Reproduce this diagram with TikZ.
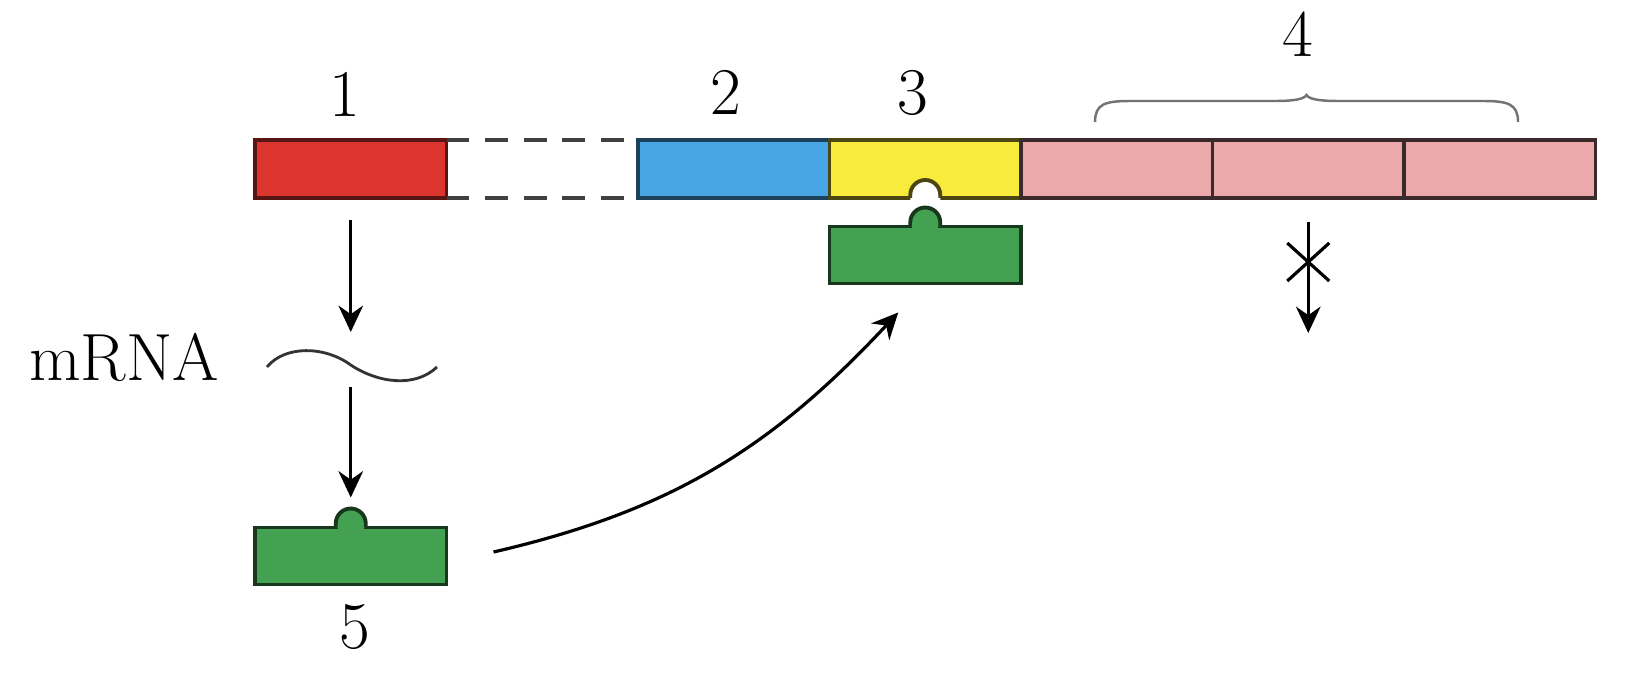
\documentclass[tikz,border=0pt]{standalone}
\usepackage{tikz}
\usetikzlibrary{positioning, arrows.meta}
\definecolor{genered}{HTML}{DC3530}
\definecolor{geneblue}{HTML}{47A6E3}
\definecolor{geneyellow}{HTML}{F9EB3C}
\definecolor{genepink}{HTML}{EBA9AB}
\definecolor{protgreen}{HTML}{45A152}
\tikzstyle{seg} = [rectangle, minimum width=1.915cm, minimum height=0.58cm, inner sep=0pt, outer sep=0pt, line width=1.1pt]
\tikzstyle{prot} = [seg, minimum height=0.57cm, fill=protgreen, draw=protgreen!35!black]
\tikzstyle{gapline} = [line width=1pt, draw=black!75, dash pattern=on 6.5pt off 4.5pt]
\tikzstyle{arrow} = [line width=0.9pt, ->, >={Stealth[length=7.5pt,width=7pt]}]
\tikzstyle{lbl} = [font=\fontsize{19}{22}\selectfont, anchor=base, inner sep=0pt]
\tikzstyle{bracel} = [line width=0.7pt, draw=black!55]

\begin{document}
\begin{tikzpicture}
\useasboundingbox (0,0) rectangle (16.32,6.78);

%gene
\node[seg, fill=genered, draw=genered!40!black] (prom) at (3.5075,5.09) {};
\node[seg, fill=geneblue, draw=geneblue!40!black, right=1.915cm of prom] (reg) {};
\node[seg, fill=geneyellow, draw=geneyellow!30!black, right=0cm of reg] (op) {};
\node[seg, fill=genepink, draw=genepink!25!black, right=0cm of op] (pk1) {};
\node[seg, fill=genepink, draw=genepink!25!black, right=0cm of pk1] (pk2) {};
\node[seg, fill=genepink, draw=genepink!25!black, right=0cm of pk2] (pk3) {};

%gap
\draw[gapline] (prom.north east) -- (reg.north west);
\draw[gapline] (prom.south east) -- (reg.south west);

%notch
\fill[white] ([xshift=-0.15cm,yshift=-0.05cm]op.south) -- ++(0,0.08) arc[start angle=180,end angle=0,radius=0.15cm] -- ++(0,-0.08) -- cycle;
\draw[line width=1.1pt, draw=geneyellow!30!black] ([xshift=-0.15cm]op.south) -- ++(0,0.03) arc[start angle=180,end angle=0,radius=0.15cm] -- ++(0,-0.03);

%labels
\node[lbl] (n1) at (3.45,5.61) {1};
\node[lbl] (n2) at (7.26,5.63) {2};
\node[lbl] (n3) at (9.13,5.63) {3};
\node[lbl] (n4) at (12.98,6.21) {4};
\node[lbl] (n5) at (3.55,0.30) {5};
\node[lbl] (mrnalbl) at (1.24,2.98) {mRNA};

%brace
\draw[bracel] (10.95,5.56) .. controls (10.95,5.74) and (11.05,5.77) .. (11.30,5.77) -- (12.75,5.77) .. controls (12.95,5.77) and (13.04,5.79) .. (13.065,5.83) .. controls (13.09,5.79) and (13.18,5.77) .. (13.38,5.77) -- (14.83,5.77) .. controls (15.08,5.77) and (15.18,5.74) .. (15.18,5.56);

%mRNA
\coordinate (wave) at (3.5075,3.13);
\draw[line width=0.8pt, black!80] (2.67,3.11) .. controls (2.85,3.33) and (3.25,3.32) .. (wave) .. controls (3.78,2.95) and (4.15,2.90) .. (4.37,3.11);

%repressor
\node[prot] (rep3) at (9.2525,4.23) {};
\node[prot] (rep) at (3.5075,1.22) {};
\filldraw[line width=1.1pt, fill=protgreen, draw=protgreen!35!black] ([xshift=-0.15cm]rep3.north) -- ++(0,0.04) arc[start angle=180,end angle=0,radius=0.15cm] -- ++(0,-0.04);
\fill[protgreen] ([xshift=-0.13cm,yshift=-0.04cm]rep3.north) rectangle ([xshift=0.13cm,yshift=0.045cm]rep3.north);
\filldraw[line width=1.1pt, fill=protgreen, draw=protgreen!35!black] ([xshift=-0.15cm]rep.north) -- ++(0,0.04) arc[start angle=180,end angle=0,radius=0.15cm] -- ++(0,-0.04);
\fill[protgreen] ([xshift=-0.13cm,yshift=-0.04cm]rep.north) rectangle ([xshift=0.13cm,yshift=0.045cm]rep.north);

%arrows
\draw[arrow] ([yshift=-0.22cm]prom.south) -- ([yshift=0.33cm]wave);
\draw[arrow] ([yshift=-0.22cm]wave) -- ([yshift=0.30cm]rep.north);
\draw[arrow] ([xshift=0.47cm,yshift=0.04cm]rep.east) to[out=13,in=-133] ([xshift=-0.27cm,yshift=-0.29cm]rep3.south);

%blocked
\coordinate (blk) at ([yshift=-0.64cm]pk2.south);
\draw[arrow] ([yshift=-0.24cm]pk2.south) -- ([yshift=-1.35cm]pk2.south);
\draw[line width=0.9pt] ([shift={(-0.21,0.19)}]blk) -- ([shift={(0.21,-0.19)}]blk);
\draw[line width=0.9pt] ([shift={(-0.21,-0.19)}]blk) -- ([shift={(0.21,0.19)}]blk);

\end{tikzpicture}
\end{document}
